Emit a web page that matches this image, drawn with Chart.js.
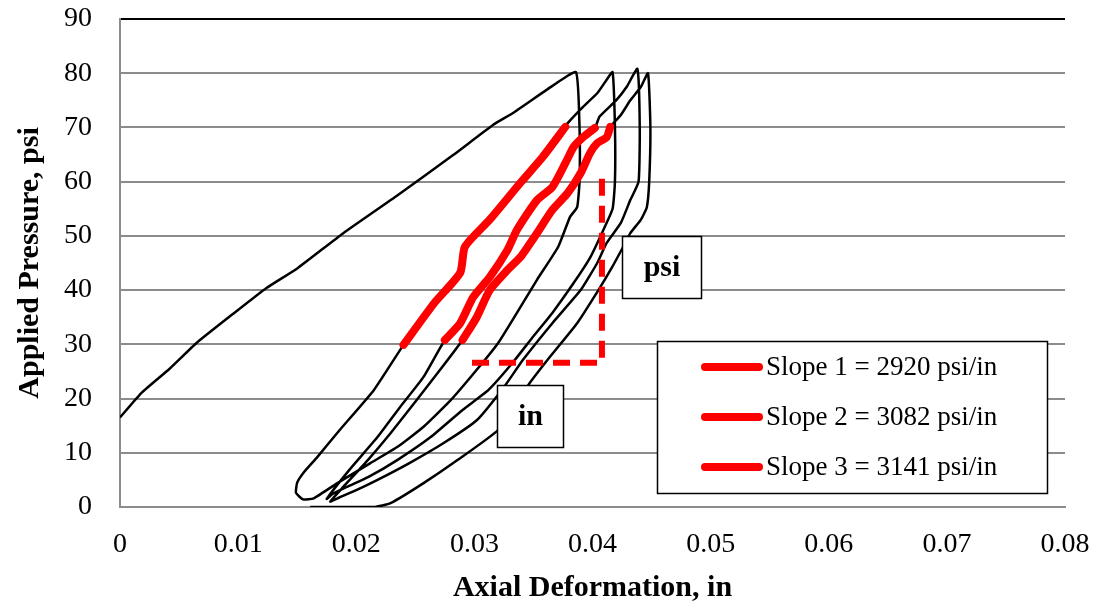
<!DOCTYPE html>
<html>
<head>
<meta charset="utf-8">
<title>Applied Pressure vs Axial Deformation</title>
<script src="https://cdn.jsdelivr.net/npm/chart.js@4.4.1/dist/chart.umd.min.js"></script>
<style>
  html, body { margin: 0; padding: 0; background: #fff; }
  #wrap { width: 1094px; height: 609px; }
</style>
</head>
<body>
<div id="wrap"><canvas id="chart"></canvas></div>
<script>
// ---------- data (axial deformation in, applied pressure psi) ----------
const xTicks = [0, 0.01, 0.02, 0.03, 0.04, 0.05, 0.06, 0.07, 0.08];
const yTicks = [0, 10, 20, 30, 40, 50, 60, 70, 80, 90];

// cycle 1 loading + unloading
const load1X = [0, 0.0018, 0.0042, 0.0065, 0.0095, 0.0124, 0.015, 0.0189, 0.0235, 0.0282, 0.0316, 0.0333, 0.0367, 0.0386];
const load1Y = [16.5, 21, 25.5, 30.3, 35.5, 40.4, 44, 50.5, 57.5, 64.9, 70.5, 72.7, 77.8, 80.2];
const unload1X = [0.0389, 0.0389, 0.0387, 0.0381, 0.0371, 0.0353, 0.0336, 0.032, 0.0302, 0.028, 0.0257, 0.0235, 0.0212, 0.0184, 0.0164, 0.0155, 0.0149, 0.015];
const unload1Y = [70, 60, 55.3, 53.5, 48, 41.9, 35.8, 30.2, 25.3, 19.7, 14.8, 11.1, 8.1, 4.4, 1.6, 1.4, 2.6, 4.5];

// cycle 2
const reload2LowX = [0.0156, 0.0167, 0.0186, 0.0215];
const reload2LowY = [6.5, 9.2, 14.2, 21.6];
const slope1X = [0.024, 0.0266, 0.0288, 0.0292, 0.0313, 0.0339, 0.0358, 0.0377];
const slope1Y = [29.9, 37.6, 43.2, 48, 53, 59.8, 64.6, 70.1];
const reload2TopX = [0.0379, 0.0392, 0.0404, 0.0412, 0.0417];
const reload2TopY = [70.8, 73.8, 76.3, 78.8, 80.2];
const unload2X = [0.0419, 0.0419, 0.0417, 0.0409, 0.0398, 0.0384, 0.0366, 0.035, 0.0332, 0.0312, 0.029, 0.0263, 0.0235, 0.021, 0.0192, 0.018, 0.0175];
const unload2Y = [70, 60, 55, 51, 46, 41.3, 35.8, 31.5, 26.5, 21.6, 17.9, 12.9, 8.7, 5.5, 3.7, 2.4, 1.5];

// cycle 3
const reload3LowX = [0.0194, 0.0218, 0.0237, 0.0257];
const reload3LowY = [6.8, 12.9, 18.4, 24];
const slope2X = [0.0275, 0.0288, 0.0299, 0.0313, 0.0328, 0.0336, 0.0353, 0.0366, 0.0377, 0.0384, 0.0392, 0.0402];
const slope2Y = [30.8, 33.9, 38.7, 42.4, 47.4, 51.1, 56.6, 59, 63.4, 66.4, 68.2, 69.9];
const reload3TopX = [0.0406, 0.042, 0.0429, 0.0438];
const reload3TopY = [72, 75, 77.5, 80.8];
const unload3X = [0.044, 0.0439, 0.0432, 0.0424, 0.0412, 0.0404, 0.039, 0.0366, 0.0341, 0.0325, 0.0302, 0.0274, 0.0245, 0.0218, 0.02, 0.0186, 0.0178];
const unload3Y = [70, 60, 56.6, 52.4, 48.7, 45, 40, 33.9, 27.1, 22.1, 16, 11.8, 8.1, 5, 3.1, 1.8, 1.0];

// cycle 4
const reload4LowX = [0.0189, 0.021, 0.0229, 0.0251, 0.0271];
const reload4LowY = [3.7, 8.7, 13.6, 19.7, 25.3];
const slope3X = [0.029, 0.0302, 0.0313, 0.0328, 0.0339, 0.0353, 0.0366, 0.0379, 0.039, 0.0398, 0.0404, 0.0412, 0.0415];
const slope3Y = [30.8, 35, 40, 43.7, 46.1, 50.5, 54.8, 57.9, 61.6, 65.3, 67.1, 68.2, 70.1];
const reload4TopX = [0.0424, 0.0432, 0.0441, 0.0447];
const reload4TopY = [72.3, 75, 77.5, 80];
const unload4X = [0.0449, 0.0448, 0.0446, 0.0441, 0.0432, 0.0426, 0.0416, 0.0405, 0.0387, 0.0364, 0.0347, 0.032, 0.0286, 0.0257, 0.0229, 0.0215, 0.0161];
const unload4Y = [70, 60, 55.3, 53, 50.5, 48, 44, 40, 33.9, 27.7, 22.9, 14.2, 8.7, 4.4, 0.7, 0, 0];

// slope triangle (dashed)
const triangleX = [0.0298, 0.0408, 0.0408];
const triangleY = [26.6, 26.6, 61.6];

const slopeLabels = ['Slope 1 = 2920 psi/in', 'Slope 2 = 3082 psi/in', 'Slope 3 = 3141 psi/in'];

// ---------- helpers ----------
const FONT = '"Liberation Serif", "Times New Roman", serif';
const RED = '#ff0000';
const GRID = '#8c8c8c';

function toPoints(xs, ys) {
  return xs.map((x, i) => ({ x: x, y: ys[i] }));
}

const blackX = [].concat(load1X, unload1X, reload2LowX, slope1X, reload2TopX, unload2X,
  reload3LowX, slope2X, reload3TopX, unload3X, reload4LowX, slope3X, reload4TopX, unload4X);
const blackY = [].concat(load1Y, unload1Y, reload2LowY, slope1Y, reload2TopY, unload2Y,
  reload3LowY, slope2Y, reload3TopY, unload3Y, reload4LowY, slope3Y, reload4TopY, unload4Y);

function redLine(label, xs, ys) {
  return {
    label: label,
    data: toPoints(xs, ys),
    showLine: true,
    borderColor: RED,
    borderWidth: 8,
    borderCapStyle: 'round',
    borderJoinStyle: 'round',
    pointRadius: 0,
    tension: 0.2,
    order: 0,
    inLegend: true
  };
}

// text boxes + legend drawn on top of everything
const notesPlugin = {
  id: 'notes',
  afterDraw(chart) {
    const ctx = chart.ctx;
    ctx.save();

    function unitBox(text, x, y, w, h) {
      ctx.fillStyle = '#fff';
      ctx.fillRect(x, y, w, h);
      ctx.strokeStyle = '#000';
      ctx.lineWidth = 1.5;
      ctx.strokeRect(x, y, w, h);
      ctx.fillStyle = '#000';
      ctx.font = 'bold 30px ' + FONT;
      ctx.textAlign = 'center';
      ctx.textBaseline = 'middle';
      ctx.fillText(text, x + w / 2, y + h / 2 + 1);
    }
    unitBox('psi', 622.5, 236.5, 79, 62);
    unitBox('in', 497.5, 385.5, 66, 62);

    // legend
    const lx = 657.5, ly = 341.5, lw = 390, lh = 152;
    ctx.fillStyle = '#fff';
    ctx.fillRect(lx, ly, lw, lh);
    ctx.strokeStyle = '#000';
    ctx.lineWidth = 1.5;
    ctx.strokeRect(lx, ly, lw, lh);

    const items = chart.data.datasets.filter(d => d.inLegend);
    items.forEach((d, i) => {
      const rowY = 367 + i * 50;
      ctx.strokeStyle = d.borderColor;
      ctx.lineWidth = 8;
      ctx.lineCap = 'round';
      ctx.beginPath();
      ctx.moveTo(705, rowY);
      ctx.lineTo(759, rowY);
      ctx.stroke();
      ctx.fillStyle = '#000';
      ctx.font = '27px ' + FONT;
      ctx.textAlign = 'left';
      ctx.textBaseline = 'middle';
      ctx.fillText(d.label, 766, rowY + 1);
    });
    ctx.restore();
  }
};

// ---------- chart ----------
new Chart(document.getElementById('chart'), {
  type: 'scatter',
  data: {
    datasets: [
      redLine(slopeLabels[0], slope1X, slope1Y),
      redLine(slopeLabels[1], slope2X, slope2Y),
      redLine(slopeLabels[2], slope3X, slope3Y),
      {
        label: 'Slope triangle',
        data: toPoints(triangleX, triangleY),
        showLine: true,
        borderColor: RED,
        borderWidth: 6,
        borderDash: [17, 10],
        pointRadius: 0,
        order: 0
      },
      {
        label: 'Test data',
        data: toPoints(blackX, blackY),
        showLine: true,
        borderColor: '#000',
        borderWidth: 2.5,
        borderJoinStyle: 'round',
        pointRadius: 0,
        tension: 0.15,
        order: 1
      }
    ]
  },
  options: {
    responsive: true,
    maintainAspectRatio: false,
    animation: false,
    layout: { padding: { top: 19, right: 29, left: 0, bottom: 0 } },
    plugins: {
      legend: { display: false },
      tooltip: { enabled: false }
    },
    scales: {
      x: {
        type: 'linear',
        min: xTicks[0],
        max: xTicks[xTicks.length - 1],
        afterBuildTicks: s => { s.ticks = xTicks.map(v => ({ value: v })); },
        afterFit: s => { s.height = 102; s.paddingLeft = 0; s.paddingRight = 0; },
        grid: { display: true, drawOnChartArea: false, drawTicks: false },
        border: { display: true, color: GRID, width: 2 },
        ticks: {
          padding: 21,
          color: '#000',
          font: { family: FONT, size: 28 },
          maxRotation: 0,
          callback: v => (v === 0 ? '0' : v.toFixed(2))
        },
        title: {
          display: true,
          text: 'Axial Deformation, in',
          color: '#000',
          font: { family: FONT, size: 30, weight: 'bold' },
          padding: { top: 0, bottom: 3 }
        }
      },
      y: {
        type: 'linear',
        min: yTicks[0],
        max: yTicks[yTicks.length - 1],
        afterBuildTicks: s => { s.ticks = yTicks.map(v => ({ value: v })); },
        afterFit: s => { s.width = 120; s.paddingTop = 0; s.paddingBottom = 0; },
        grid: {
          drawTicks: false,
          color: c => (c.tick && c.tick.value === 90 ? '#000' : GRID),
          lineWidth: 2
        },
        border: { display: true, color: GRID, width: 2 },
        ticks: {
          padding: 28,
          color: '#000',
          font: { family: FONT, size: 28 }
        },
        title: {
          display: true,
          text: 'Applied Pressure, psi',
          color: '#000',
          font: { family: FONT, size: 30, weight: 'bold' },
          padding: { top: 12, bottom: 0 }
        }
      }
    }
  },
  plugins: [notesPlugin]
});
</script>
</body>
</html>
